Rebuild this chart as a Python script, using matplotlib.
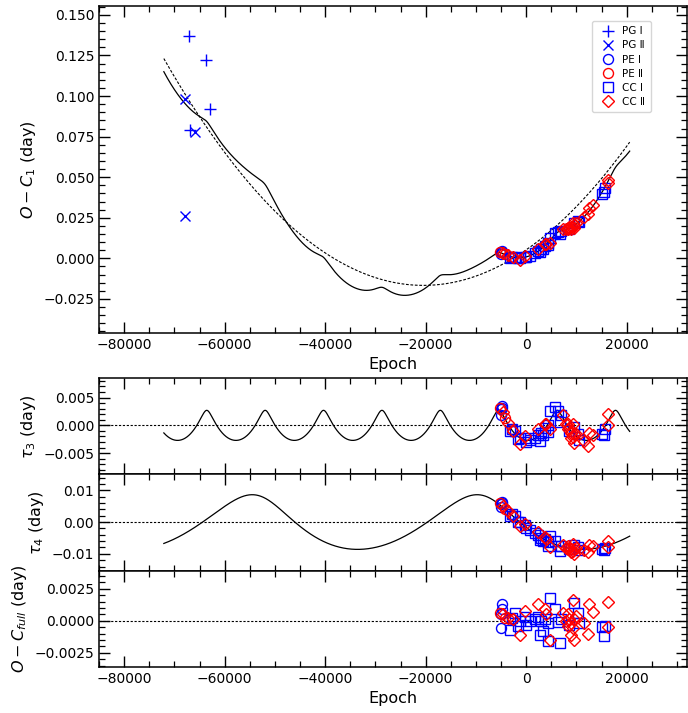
import numpy as np
import matplotlib.pyplot as plt
from matplotlib.ticker import MultipleLocator

# photographic minima (O-C1 in days)
pg1_epoch = [-67100, -63800, -63000, -66900]
pg1_oc = [0.137, 0.122, 0.092, 0.079]
pg2_epoch = [-67900, -65900, -67900]
pg2_oc = [0.098, 0.078, 0.026]

# photoelectric / CCD minima: epoch and residual from the full fit (days)
pe1_epoch = [-4900, -4900, -5100, -5100]
pe1_res = [0.0013, 0.0009, 0.0005, -0.0006]
pe2_epoch = [-5200, -4200, -2900]
pe2_res = [0.0006, 0.0002, 0.0001]
cc1_epoch = [-3200, -2200, -1600, -300, -100, 1700, 2400, 3000, 3400, 2700,
             4400, 4700, 5700, 6300, 4400, 6700, 8600, 9600, 10300, 10600,
             15600, 15400, 15000, -2900, 700, -1300, 7000, 3700]
cc1_res = [-0.0007, 0.0006, -0.0004, 0.0003, -0.0003, 0.0001, 0.0003, 0.0000, -0.0008, -0.0011,
           -0.0002, 0.0018, 0.0009, -0.0001, -0.0016, -0.0017, -0.0003, 0.0014, 0.0006, -0.0002,
           -0.0004, -0.0012, -0.0005, 0.0002, 0.0000, 0.0000, 0.0001, 0.0001]
cc2_epoch = [-300, -1300, -3600, -2600, 2400, 3700, 4000, 4700, 9300, 8300,
             8600, 9000, 9600, 9300, 9000, 9600, 8000, 8300, 12600, 13300,
             12300, 16200, 16200, 11600, 7300, 10000, -4600]
cc2_res = [0.0008, -0.0011, 0.0002, 0.0001, 0.0013, 0.0009, 0.0005, -0.0015, 0.0016, 0.0005,
           0.0001, -0.0002, 0.0001, -0.0006, -0.0011, -0.0015, 0.0000, -0.0004, 0.0013, 0.0007,
           -0.0010, 0.0015, -0.0005, -0.0002, 0.0006, 0.0004, 0.0005]

# quadratic ephemeris term: a*E^2 + b*E + c
quad_coef = [5.239e-11, 2.1425e-6, 0.00523]
# LTTE orbits: amplitude (d), e, omega (deg), period (cycles), periastron epoch
orbit3 = [0.0027, 0.5, 90.0, 11620, -63560]
orbit4 = [0.0086, 0.3, 110.0, 44750, -8080]
model_range = [-72100, 20600]


def quad(E):
    E = np.asarray(E, float)
    return np.polyval(quad_coef, E)


def ltte(E, orb):
    amp, e, w, per, t0 = orb
    w = np.radians(w)
    M = 2 * np.pi * (np.asarray(E, float) - t0) / per
    ecc = M.copy()
    for _ in range(60):
        ecc = M + e * np.sin(ecc)
    nu = 2 * np.arctan(np.sqrt((1 + e) / (1 - e)) * np.tan(ecc / 2))
    k = amp / np.sqrt(1 - e**2 * np.cos(w)**2)
    return k * ((1 - e**2) / (1 + e * np.cos(nu)) * np.sin(nu + w) + e * np.sin(w))


def full(E):
    return quad(E) + ltte(E, orbit3) + ltte(E, orbit4)


grid = np.linspace(model_range[0], model_range[1], 3000)

plt.rcParams['font.size'] = 10
plt.rcParams['mathtext.default'] = 'it'

fig = plt.figure(figsize=(6.88, 7.13), dpi=100)
ax0 = fig.add_axes([0.1439, 0.533, 0.8546, 0.4586])
h = 0.1351
ax1 = fig.add_axes([0.1439, 0.0645 + 2 * h, 0.8546, h])
ax2 = fig.add_axes([0.1439, 0.0645 + h, 0.8546, h], sharex=ax1)
ax3 = fig.add_axes([0.1439, 0.0645, 0.8546, h], sharex=ax1)

groups = [
    (pe1_epoch, pe1_res, 'o', 'blue', 7.2, 'PE Ⅰ'),
    (pe2_epoch, pe2_res, 'o', 'red', 7.2, 'PE Ⅱ'),
    (cc1_epoch, cc1_res, 's', 'blue', 7.2, 'CC Ⅰ'),
    (cc2_epoch, cc2_res, 'D', 'red', 6.0, 'CC Ⅱ'),
]

# top panel
ax0.plot(grid, full(grid), color='black', lw=0.9)
ax0.plot(grid, quad(grid), color='black', lw=0.8, ls=(0, (2.5, 1.5)))
ax0.plot(pg1_epoch, pg1_oc, '+', color='blue', ms=8, mew=1.0, ls='none', label='PG Ⅰ')
ax0.plot(pg2_epoch, pg2_oc, 'x', color='blue', ms=7, mew=1.0, ls='none', label='PG Ⅱ')
for ep, res, m, c, ms, lab in groups:
    ep = np.array(ep, float)
    ax0.plot(ep, full(ep) + np.array(res), m, mfc='none', mec=c, ms=ms, mew=1.0,
             ls='none', label=lab)
ax0.set_xlim(-85000, 32000)
ax0.set_ylim(-0.046, 0.1555)
ax0.set_xlabel('Epoch', fontsize=11.5)
ax0.set_ylabel('$O-C_1$ (day)', fontsize=11.5)
ax0.xaxis.set_major_locator(MultipleLocator(20000))
ax0.xaxis.set_minor_locator(MultipleLocator(5000))
ax0.yaxis.set_major_locator(MultipleLocator(0.025))
ax0.yaxis.set_minor_locator(MultipleLocator(0.005))
ax0.legend(loc='upper right', fontsize=7.5, handletextpad=0.4, borderpad=0.5,
           labelspacing=0.4, bbox_to_anchor=(0.947, 0.97))

# tau3 panel
ax1.plot(grid, ltte(grid, orbit3), color='black', lw=0.9)
# tau4 panel
ax2.plot(grid, ltte(grid, orbit4), color='black', lw=0.9)
for ep, res, m, c, ms, lab in groups:
    ep = np.array(ep, float)
    ax1.plot(ep, ltte(ep, orbit3) + np.array(res), m, mfc='none', mec=c, ms=ms, mew=1.0, ls='none')
    ax2.plot(ep, ltte(ep, orbit4) + np.array(res), m, mfc='none', mec=c, ms=ms, mew=1.0, ls='none')
    ax3.plot(ep, res, m, mfc='none', mec=c, ms=ms, mew=1.0, ls='none')

for ax in (ax1, ax2, ax3):
    ax.axhline(0, color='black', lw=0.8, ls=(0, (2, 1.5)), zorder=0)

ax1.set_ylim(-0.0088, 0.0085)
ax1.yaxis.set_major_locator(MultipleLocator(0.005))
ax1.yaxis.set_minor_locator(MultipleLocator(0.001))
ax1.set_ylabel(r'$\tau_3$ (day)', fontsize=11.5)

ax2.set_ylim(-0.0153, 0.015)
ax2.yaxis.set_major_locator(MultipleLocator(0.01))
ax2.yaxis.set_minor_locator(MultipleLocator(0.002))
ax2.set_ylabel(r'$\tau_4$ (day)', fontsize=11.5)

ax3.set_ylim(-0.0036, 0.0039)
ax3.yaxis.set_major_locator(MultipleLocator(0.0025))
ax3.yaxis.set_minor_locator(MultipleLocator(0.0005))
ax3.set_ylabel('$O-C_{full}$ (day)', fontsize=11.5)
ax3.set_xlabel('Epoch', fontsize=11.5)
ax3.set_xlim(-85000, 32000)
ax3.xaxis.set_major_locator(MultipleLocator(20000))
ax3.xaxis.set_minor_locator(MultipleLocator(5000))
for ax in (ax1, ax2):
    ax.tick_params(labelbottom=False)

for ax in (ax0, ax1, ax2, ax3):
    ax.tick_params(which='both', direction='in', top=True, right=True, labelsize=10)
    ax.tick_params(which='major', length=8, width=1.0)
    ax.tick_params(which='minor', length=4, width=0.9)
    for s in ax.spines.values():
        s.set_linewidth(1.1)

fig.savefig('out.png', dpi=100)
